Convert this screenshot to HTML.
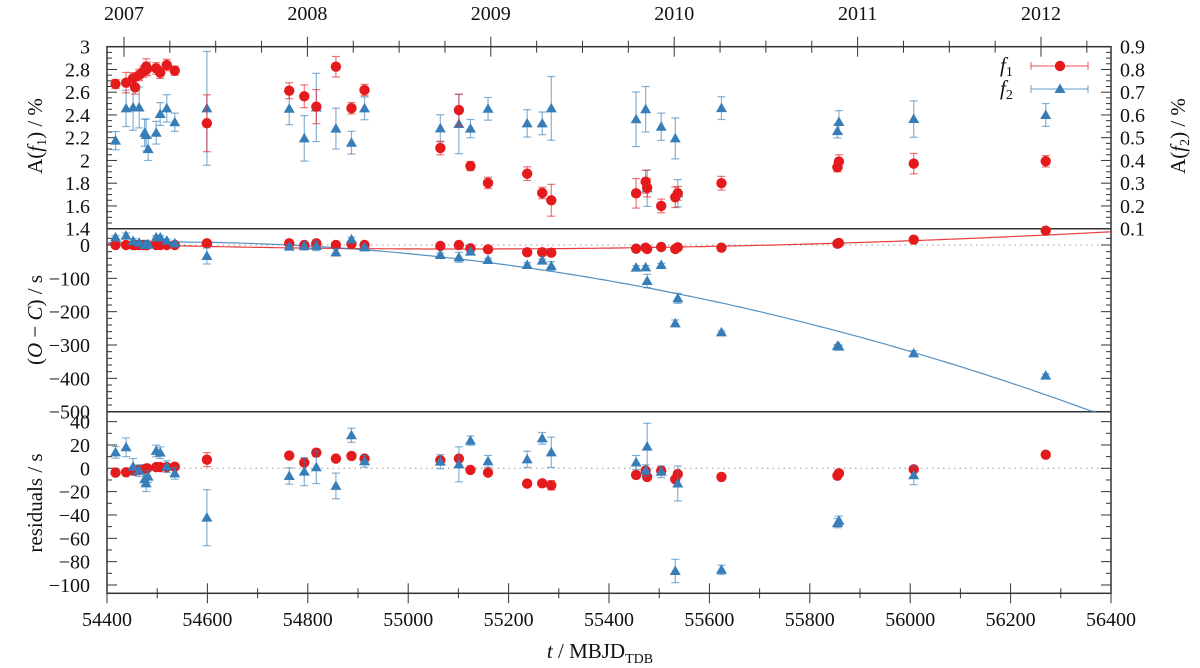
<!DOCTYPE html>
<html><head><meta charset="utf-8"><style>
html,body{margin:0;padding:0;background:#fff;}
svg{display:block;font-family:"Liberation Serif",serif;}
</style></head><body>
<svg id="chart" width="1200" height="668" viewBox="0 0 1200 668" xmlns="http://www.w3.org/2000/svg"></svg>
<script>
// ---- data ----
const redT=[54417,54438,54452,54456,54464,54472,54478,54480,54498,54506,54519,54535,54599,54763,54793,54817,54856,54887,54913,55064,55101,55124,55159,55237,55267,55285,55454,55473,55476,55504,55532,55537,55624,55855,55858,56007,56270];
const redAmp=[2.672,2.684,2.722,2.643,2.751,2.78,2.824,2.804,2.81,2.771,2.839,2.789,2.327,2.613,2.564,2.473,2.824,2.459,2.619,2.109,2.443,1.951,1.802,1.884,1.714,1.65,1.711,1.813,1.76,1.60,1.676,1.711,1.80,1.94,1.99,1.972,1.993];
const redAmpErr=[0.04,0.09,0.05,0.06,0.05,0.05,0.07,0.06,0.05,0.05,0.05,0.04,0.25,0.07,0.1,0.15,0.09,0.05,0.05,0.06,0.14,0.04,0.05,0.06,0.05,0.14,0.13,0.1,0.08,0.06,0.09,0.06,0.06,0.04,0.06,0.09,0.05];
const redOC=[0,0,0,0,0,0,0,0,0,0,0,0,5,5,0,5,0,3,0,-3,0,-10,-13,-22,-22,-23,-11,-8,-12,-6,-12,-7,-8,4,6,16,43];
const redRes=[-3.7,-3.4,-2,-2,-1.4,-1,-0.3,0,1,1,1,1.4,7.4,10.9,4.9,13.4,8.3,10.6,8.3,6.9,8.3,-1.4,-3.7,-13.1,-12.9,-14.6,-5.7,-2,-7.4,-2,-9.4,-4.9,-7.4,-6.3,-4.3,-0.9,11.7];
const redTimeErr=[2,2,2,2,2,2,2,2,2,2,2,2,6,2,2,3,2,2,2,2,2,2,2,2,2,4,2,2,2,2,2,2,2,2,2,2,2];
const blueT=[54417,54438,54452,54464,54475,54478,54482,54498,54506,54519,54535,54599,54763,54793,54817,54856,54887,54913,55064,55101,55124,55159,55237,55267,55285,55454,55473,55476,55504,55532,55537,55624,55855,55858,56007,56270];
const blueAmp=[0.487,0.629,0.633,0.633,0.522,0.512,0.45,0.522,0.604,0.629,0.568,0.629,0.627,0.497,0.633,0.54,0.478,0.629,0.541,0.56,0.54,0.627,0.563,0.563,0.629,0.581,0.625,0.278,0.548,0.497,0.256,0.63,0.529,0.569,0.582,0.60];
const blueAmpErr=[0.04,0.08,0.1,0.09,0.06,0.07,0.05,0.05,0.05,0.06,0.04,0.25,0.07,0.1,0.15,0.09,0.05,0.05,0.06,0.13,0.04,0.05,0.06,0.05,0.14,0.12,0.1,0.08,0.06,0.09,0.06,0.05,0.03,0.05,0.08,0.05];
const blueOC=[23,28,12,7,0,0,2,23,23,13,5,-33,-5,-3,-3,-22,17,-7,-30,-37,-20,-45,-60,-47,-63,-68,-67,-108,-60,-235,-160,-262,-303,-305,-325,-392];
const blueRes=[13.7,18,1.4,-2,-9.4,-12.9,-7.1,14.9,13.4,1.4,-4.3,-42.3,-6.6,-2.9,0.9,-15.1,28.3,6,5.7,3.4,23.7,6,7.7,25.7,13.7,5,-2,18.6,-3,-88,-13,-87,-47,-45,-6,null];
const blueTimeErr=[5,8,7,5,5,7,5,5,5,5,5,24,7,12,14,11,6,5,6,15,4,5,7,5,13,6,5,20,5,10,15,4,4,4,8,5];
const xTicks=[54400,54600,54800,55000,55200,55400,55600,55800,56000,56200,56400];
const yearLabels=["2007","2008","2009","2010","2011","2012"];
const yearVals=[2007,2008,2009,2010,2011,2012];
const ampTicks=[3,2.8,2.6,2.4,2.2,2,1.8,1.6,1.4];
const amp2Ticks=[0.9,0.8,0.7,0.6,0.5,0.4,0.3,0.2,0.1];
const ocTicks=[0,-100,-200,-300,-400,-500];
const resTicks=[40,20,0,-20,-40,-60,-80,-100];
// fits (quadratic) coefficients
const redFit=[-12,0,3.06e-5,55100];
const blueFit=[7,0.0347,-1.491e-4,54400];

const NS="http://www.w3.org/2000/svg";
const svg=document.getElementById('chart');
const L=107,R=1111;
const P1=[46.7,228.7],P2=[228.7,411.7],P3=[411.7,593.3];
const RED="#e41a1c",BLUE="#377eb8";
function X(t){return L+(t-54400)*(R-L)/2000;}
function Y1(a){return 46.7+(3-a)*(182/1.6);}
function Y1b(b){return 46.7+(0.9-b)*(182/0.8);}
function Y2(v){return 245-v/3;}
function Y3(v){return 468.3-v*(46.67/40);}
function Xyear(y){return 124+(y-2007)*183.4;}
function mk(tag,attrs,parent){const e=document.createElementNS(NS,tag);for(const k in attrs)e.setAttribute(k,attrs[k]);(parent||svg).appendChild(e);return e;}
function txt(s,x,y,anchor,size,parent){const e=mk('text',{x:x,y:y,'text-anchor':anchor,'font-size':size,fill:'#111'},parent);e.textContent=s;return e;}

// frames
const frame=mk('g',{});


mk('rect',{x:L,y:P1[0],width:R-L,height:P3[1]-P1[0],fill:'none',stroke:'#333','stroke-width':1.5},frame);
mk('line',{x1:L,x2:R,y1:P1[1],y2:P1[1],stroke:'#333','stroke-width':1.5},frame);
mk('line',{x1:L,x2:R,y1:P2[1],y2:P2[1],stroke:'#333','stroke-width':1.5},frame);
// zero dotted lines
mk('line',{x1:L,x2:R,y1:Y2(0),y2:Y2(0),stroke:'#999','stroke-width':1,'stroke-dasharray':'1.5,4'},frame);
mk('line',{x1:L,x2:R,y1:Y3(0),y2:Y3(0),stroke:'#999','stroke-width':1,'stroke-dasharray':'1.5,4'},frame);

// ticks
const tk=mk('g',{stroke:'#333','stroke-width':1});


for(let t=54400;t<=56400;t+=100){const x=X(t);const len=(t%200===0)?10:5;
 mk('line',{x1:x,x2:x,y1:P3[1],y2:P3[1]-len},tk);mk('line',{x1:x,x2:x,y1:P3[1],y2:P3[1]+len},tk);}
for(let q=2006.75;q<=2012.5;q+=0.25){const x=Xyear(q);if(x<L||x>R)continue;const len=(Math.abs(q-Math.round(q))<1e-6)?10:6;
 mk('line',{x1:x,x2:x,y1:P1[0],y2:P1[0]-len},tk);mk('line',{x1:x,x2:x,y1:P1[0],y2:P1[0]+len},tk);}
for(let a=1.4;a<=3.0001;a+=0.05){const y=Y1(a);const maj=Math.abs(a*5-Math.round(a*5))<1e-6;mk('line',{x1:L,x2:L+(maj?10:5),y1:y,y2:y},tk);}
for(let b=0.1;b<=0.9001;b+=0.025){const y=Y1b(b);const maj=Math.abs(b*10-Math.round(b*10))<1e-6;mk('line',{x1:R,x2:R-(maj?10:5),y1:y,y2:y},tk);}
for(let v=-500;v<=20;v+=20){const y=Y2(v);const maj=v%100===0;mk('line',{x1:L,x2:L+(maj?10:5),y1:y,y2:y},tk);mk('line',{x1:R,x2:R-(maj?10:5),y1:y,y2:y},tk);}
for(let v=-100;v<=40;v+=10){const y=Y3(v);const maj=v%20===0;mk('line',{x1:L,x2:L+(maj?10:5),y1:y,y2:y},tk);mk('line',{x1:R,x2:R-(maj?10:5),y1:y,y2:y},tk);}

// labels
const lab=mk('g',{});


xTicks.forEach(t=>txt(String(t),X(t),626,'middle',20,lab));
yearVals.forEach((y,i)=>txt(yearLabels[i],Xyear(y),20,'middle',20,lab));
ampTicks.forEach(a=>txt(String(a),90,Y1(a)+7,'end',20,lab));
amp2Ticks.forEach(b=>txt(b.toFixed(1),1120,Y1b(b)+7,'start',20,lab));
ocTicks.forEach(v=>txt(v===0?'0':'−'+(-v),90,Y2(v)+7,'end',20,lab));
resTicks.forEach(v=>txt(v<0?'−'+(-v):String(v),90,Y3(v)+7,'end',20,lab));

// axis titles
const xt=mk('text',{x:600,y:658,'text-anchor':'middle','font-size':21,fill:'#111'});

xt.innerHTML='<tspan font-style="italic">t</tspan> / MBJD<tspan font-size="14" dy="5">TDB</tspan>';
function rotTitle(html,x,y,name){const e=mk('text',{x:0,y:0,'text-anchor':'middle','font-size':21,fill:'#111',transform:`translate(${x},${y}) rotate(-90)`});
 e.innerHTML=html;}
rotTitle('A(<tspan font-style="italic">f</tspan><tspan font-size="14" dy="4">1</tspan><tspan dy="-4">) / %</tspan>',42,136,'y-axis-title-amplitude-f1');
rotTitle('(<tspan font-style="italic">O</tspan> − <tspan font-style="italic">C</tspan>) / s',42,320,'y-axis-title-o-minus-c');
rotTitle('residuals / s',42,503,'y-axis-title-residuals');
rotTitle('A(<tspan font-style="italic">f</tspan><tspan font-size="14" dy="4">2</tspan><tspan dy="-4">) / %</tspan>',1185,136,'y-axis-title-amplitude-f2');

// fit curves
function fitVal(c,t){return c[0]+c[1]*(t-c[3])+c[2]*(t-c[3])*(t-c[3]);}
function drawFit(c,color,name){let d='';for(let t=54400;t<=56400;t+=10){let y=Y2(fitVal(c,t));if(y>P2[1]){y=P2[1];}d+=(d?'L':'M')+X(t).toFixed(1)+','+y.toFixed(1);if(y>=P2[1])break;}
 const p=mk('path',{d:d,fill:'none',stroke:color,'stroke-width':1.2,opacity:0.85});}
drawFit(redFit,RED,'fit-curve-f1');
drawFit(blueFit,BLUE,'fit-curve-f2');

// markers
function errBar(g,x,y1,y2,color){mk('line',{x1:x,x2:x,y1:y1,y2:y2,stroke:color,'stroke-width':1.2,opacity:0.6},g);
 mk('line',{x1:x-4,x2:x+4,y1:y1,y2:y1,stroke:color,'stroke-width':1.2,opacity:0.6},g);mk('line',{x1:x-4,x2:x+4,y1:y2,y2:y2,stroke:color,'stroke-width':1.2,opacity:0.6},g);}
function circle(g,x,y){mk('circle',{cx:x,cy:y,r:5.2,fill:RED},g);}
function tri(g,x,y){mk('path',{d:`M${x},${y-5.5}L${x+5.5},${y+4}L${x-5.5},${y+4}Z`,fill:BLUE},g);}
function series(ts,vals,errs,yf,shape,color,name){const g=mk('g',{});
 ts.forEach((t,i)=>{const v=vals[i];if(v===null||v===undefined)return;const x=X(t);errBar(g,x,yf(v-errs[i]),yf(v+errs[i]),color);});
 ts.forEach((t,i)=>{const v=vals[i];if(v===null||v===undefined)return;shape(g,X(t),yf(v));});}
series(blueT,blueAmp,blueAmpErr,Y1b,tri,BLUE,'f2-amplitude-points');
series(redT,redAmp,redAmpErr,Y1,circle,RED,'f1-amplitude-points');
series(redT,redOC,redTimeErr,Y2,circle,RED,'f1-oc-points');
series(blueT,blueOC,blueTimeErr,Y2,tri,BLUE,'f2-oc-points');
series(redT,redRes,redTimeErr,Y3,circle,RED,'f1-residual-points');
series(blueT,blueRes,blueTimeErr,Y3,tri,BLUE,'f2-residual-points');

// legend
const lg=mk('g',{});
const l1=mk('g',{},lg);
const t1=mk('text',{x:1000,y:72,'font-size':21,fill:'#111'},l1);t1.innerHTML='<tspan font-style="italic">f</tspan><tspan font-size="14" dy="4">1</tspan>';
mk('line',{x1:1031,x2:1088,y1:66,y2:66,stroke:RED,'stroke-width':1.2,opacity:0.6},l1);
mk('line',{x1:1031,x2:1031,y1:62,y2:70,stroke:RED,'stroke-width':1.2,opacity:0.6},l1);mk('line',{x1:1088,x2:1088,y1:62,y2:70,stroke:RED,'stroke-width':1.2,opacity:0.6},l1);
circle(l1,1060,66);
const l2=mk('g',{},lg);
const t2=mk('text',{x:1000,y:95,'font-size':21,fill:'#111'},l2);t2.innerHTML='<tspan font-style="italic">f</tspan><tspan font-size="14" dy="4">2</tspan>';
mk('line',{x1:1031,x2:1088,y1:89,y2:89,stroke:BLUE,'stroke-width':1.2,opacity:0.6},l2);
mk('line',{x1:1031,x2:1031,y1:85,y2:93,stroke:BLUE,'stroke-width':1.2,opacity:0.6},l2);mk('line',{x1:1088,x2:1088,y1:85,y2:93,stroke:BLUE,'stroke-width':1.2,opacity:0.6},l2);
tri(l2,1060,89);
</script>
</body></html>
